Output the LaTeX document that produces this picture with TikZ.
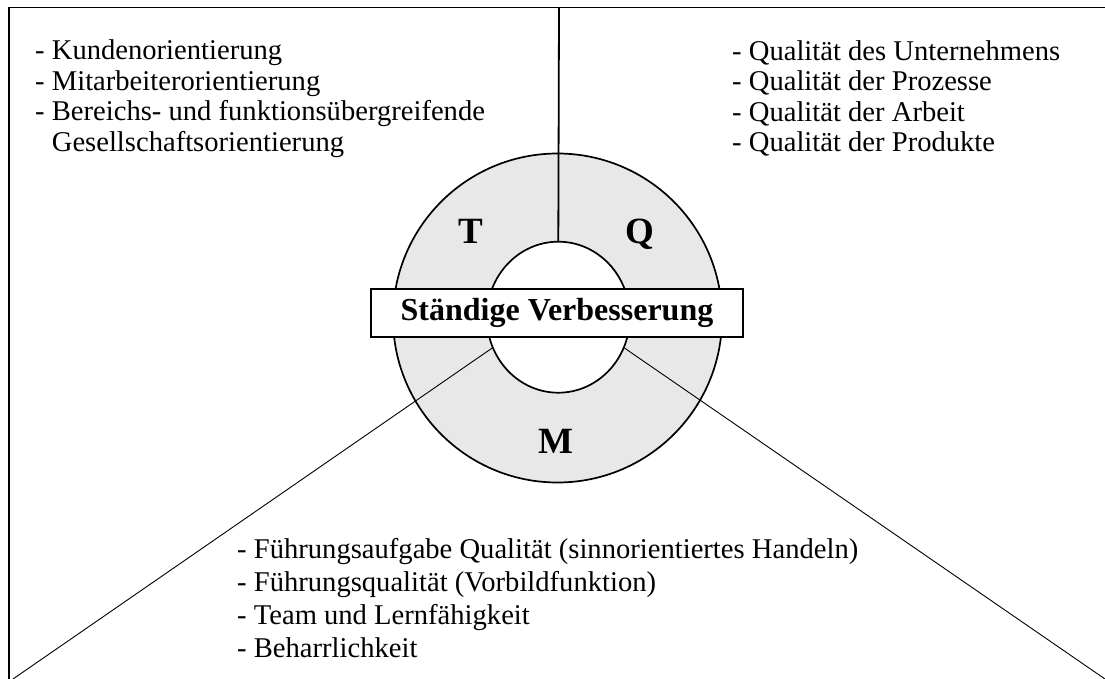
\documentclass[tikz,border=0pt]{standalone}
\usepackage{fontspec}
\setmainfont{Liberation Serif}
\usetikzlibrary{shapes.geometric, positioning}
\definecolor{ringgray}{HTML}{E8E8E8}

\begin{document}
\begin{tikzpicture}[
    x=1pt, y=-1pt,
    frame/.style={line width=1.8pt},
    spoke/.style={line width=0.9pt},
    ring/.style={circle, draw, line width=1.7pt, fill=ringgray, minimum size=329pt, inner sep=0pt},
    hole/.style={ellipse, draw, line width=1.7pt, fill=white, minimum width=143pt, minimum height=151pt, inner sep=0pt},
    letter/.style={anchor=base, inner sep=0pt, font=\fontsize{37}{37}\selectfont\bfseries},
    banner/.style={rectangle, draw, line width=1.7pt, fill=white, minimum width=372pt, minimum height=48pt, inner sep=0pt, font=\fontsize{32}{32}\selectfont\bfseries},
    list/.style={anchor=base west, align=left, inner sep=0pt, font=\fontsize{28.6}{30.5}\selectfont}
  ]
    \useasboundingbox (0,0) rectangle (1105,679);

    % frame corners and line ends
    \coordinate (tl) at (9,7.5);
    \coordinate (tr) at (1105,7.5);
    \coordinate (bl) at (9,679);
    \coordinate (tm) at (559,7.5);
    \coordinate (lfoot) at (13,679);
    \coordinate (rfoot) at (1105,679);

    \node[ring] (outer) at (557.5,318) {};
    \node[hole] (inner) at (558.3,317.2) {};

    \draw[frame] (bl) -- (tl) -- (tr);
    \draw[frame] (tm) -- (inner.north);
    \draw[spoke] (inner.205) -- (lfoot);
    \draw[spoke] (inner.335) -- (rfoot);

    \node[banner] (cip) at (557,313) {Ständige Verbesserung};

    \node[letter] (t) at (471,243) {T};
    \node[letter] (q) at (640,243) {Q};
    \node[letter] (m) at (555.5,453) {M};

    % base anchor sits on the last line
    \node[list] (total) at (35,151.5) {- Kundenorientierung\\- Mitarbeiterorientierung\\- Bereichs- und funktionsübergreifende\\\hphantom{- }Gesellschaftsorientierung};
    \node[list] (quality) at (732,152) {- Qualität des Unternehmens\\- Qualität der Prozesse\\- Qualität der Arbeit\\- Qualität der Produkte};
    \node[list, font=\fontsize{28.6}{33}\selectfont] (management) at (237,657) {- Führungsaufgabe Qualität (sinnorientiertes Handeln)\\- Führungsqualität (Vorbildfunktion)\\- Team und Lernfähigkeit\\- Beharrlichkeit};
  \end{tikzpicture}
\end{document}
